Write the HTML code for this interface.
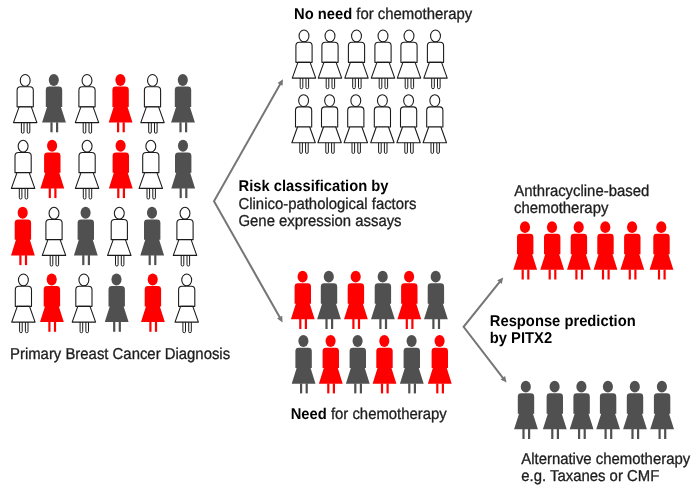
<!DOCTYPE html>
<html><head><meta charset="utf-8"><style>
html,body{margin:0;padding:0;background:#fff;width:700px;height:495px;overflow:hidden}
svg{display:block}
text{font-family:"Liberation Sans",sans-serif;font-size:14.9px;text-rendering:geometricPrecision}
</style></head><body>
<svg width="700" height="495" viewBox="0 0 700 495">

<rect width="700" height="495" fill="#fff"/>
<path d="M280.54,83.55 L214,201.2 L280.14,318.05" fill="none" stroke="#767676" stroke-width="2" stroke-linejoin="miter" stroke-miterlimit="10"/><polygon points="283.00,79.20 282.57,85.85 277.52,82.99" fill="#767676"/><polygon points="282.60,322.40 277.12,318.61 282.17,315.75" fill="#767676"/><path d="M500.07,281.30 L463.6,326.8 L503.45,378.64" fill="none" stroke="#767676" stroke-width="2" stroke-linejoin="miter" stroke-miterlimit="10"/><polygon points="503.20,277.40 501.71,283.90 497.18,280.27" fill="#767676"/><polygon points="506.50,382.60 500.54,379.61 505.14,376.08" fill="#767676"/>
<g transform="translate(25.2,74.0)"><g fill="#fff" stroke="#1a1a1a" stroke-width="1.08" stroke-linejoin="round"><ellipse cx="0" cy="6.4" rx="4.95" ry="5.9"/><path d="M-8.1,32.85 V16.2 Q-8.1,12.7 -4.6,12.7 H4.6 Q8.1,12.7 8.1,16.2 V32.85 Z"/><rect x="-3.8" y="47.5" width="2.6" height="11.7" rx="1.2" stroke-width="1"/><rect x="2.0" y="47.5" width="2.6" height="11.7" rx="1.2" stroke-width="1"/><path d="M-6.1,32.85 L6.1,32.85 L11.7,48.6 L-11.7,48.6 Z"/></g></g><g transform="translate(54.0,74.0)"><g fill="#505050"><ellipse cx="-0.2" cy="5.95" rx="5.05" ry="5.95"/><path d="M-8.2,33 V16 Q-8.2,12.6 -4.8,12.6 H4.8 Q8.2,12.6 8.2,16 V33 H6.96 L11.9,48.6 H-11.9 L-6.96,33 Z"/><rect x="-3.6" y="48.3" width="2.2" height="10"/><rect x="2.0" y="48.3" width="2.2" height="10"/></g></g><g transform="translate(87.0,74.0)"><g fill="#fff" stroke="#1a1a1a" stroke-width="1.08" stroke-linejoin="round"><ellipse cx="0" cy="6.4" rx="4.95" ry="5.9"/><path d="M-8.1,32.85 V16.2 Q-8.1,12.7 -4.6,12.7 H4.6 Q8.1,12.7 8.1,16.2 V32.85 Z"/><rect x="-3.8" y="47.5" width="2.6" height="11.7" rx="1.2" stroke-width="1"/><rect x="2.0" y="47.5" width="2.6" height="11.7" rx="1.2" stroke-width="1"/><path d="M-6.1,32.85 L6.1,32.85 L11.7,48.6 L-11.7,48.6 Z"/></g></g><g transform="translate(120.6,74.0)"><g fill="#ff0000"><ellipse cx="-0.2" cy="5.95" rx="5.05" ry="5.95"/><path d="M-8.2,33 V16 Q-8.2,12.6 -4.8,12.6 H4.8 Q8.2,12.6 8.2,16 V33 H6.96 L11.9,48.6 H-11.9 L-6.96,33 Z"/><rect x="-3.6" y="48.3" width="2.2" height="10"/><rect x="2.0" y="48.3" width="2.2" height="10"/></g></g><g transform="translate(152.5,74.0)"><g fill="#fff" stroke="#1a1a1a" stroke-width="1.08" stroke-linejoin="round"><ellipse cx="0" cy="6.4" rx="4.95" ry="5.9"/><path d="M-8.1,32.85 V16.2 Q-8.1,12.7 -4.6,12.7 H4.6 Q8.1,12.7 8.1,16.2 V32.85 Z"/><rect x="-3.8" y="47.5" width="2.6" height="11.7" rx="1.2" stroke-width="1"/><rect x="2.0" y="47.5" width="2.6" height="11.7" rx="1.2" stroke-width="1"/><path d="M-6.1,32.85 L6.1,32.85 L11.7,48.6 L-11.7,48.6 Z"/></g></g><g transform="translate(183.0,74.0)"><g fill="#505050"><ellipse cx="-0.2" cy="5.95" rx="5.05" ry="5.95"/><path d="M-8.2,33 V16 Q-8.2,12.6 -4.8,12.6 H4.8 Q8.2,12.6 8.2,16 V33 H6.96 L11.9,48.6 H-11.9 L-6.96,33 Z"/><rect x="-3.6" y="48.3" width="2.2" height="10"/><rect x="2.0" y="48.3" width="2.2" height="10"/></g></g><g transform="translate(23.1,139.8)"><g fill="#fff" stroke="#1a1a1a" stroke-width="1.08" stroke-linejoin="round"><ellipse cx="0" cy="6.4" rx="4.95" ry="5.9"/><path d="M-8.1,32.85 V16.2 Q-8.1,12.7 -4.6,12.7 H4.6 Q8.1,12.7 8.1,16.2 V32.85 Z"/><rect x="-3.8" y="47.5" width="2.6" height="11.7" rx="1.2" stroke-width="1"/><rect x="2.0" y="47.5" width="2.6" height="11.7" rx="1.2" stroke-width="1"/><path d="M-6.1,32.85 L6.1,32.85 L11.7,48.6 L-11.7,48.6 Z"/></g></g><g transform="translate(52.3,139.8)"><g fill="#ff0000"><ellipse cx="-0.2" cy="5.95" rx="5.05" ry="5.95"/><path d="M-8.2,33 V16 Q-8.2,12.6 -4.8,12.6 H4.8 Q8.2,12.6 8.2,16 V33 H6.96 L11.9,48.6 H-11.9 L-6.96,33 Z"/><rect x="-3.6" y="48.3" width="2.2" height="10"/><rect x="2.0" y="48.3" width="2.2" height="10"/></g></g><g transform="translate(87.1,139.8)"><g fill="#fff" stroke="#1a1a1a" stroke-width="1.08" stroke-linejoin="round"><ellipse cx="0" cy="6.4" rx="4.95" ry="5.9"/><path d="M-8.1,32.85 V16.2 Q-8.1,12.7 -4.6,12.7 H4.6 Q8.1,12.7 8.1,16.2 V32.85 Z"/><rect x="-3.8" y="47.5" width="2.6" height="11.7" rx="1.2" stroke-width="1"/><rect x="2.0" y="47.5" width="2.6" height="11.7" rx="1.2" stroke-width="1"/><path d="M-6.1,32.85 L6.1,32.85 L11.7,48.6 L-11.7,48.6 Z"/></g></g><g transform="translate(120.8,139.8)"><g fill="#ff0000"><ellipse cx="-0.2" cy="5.95" rx="5.05" ry="5.95"/><path d="M-8.2,33 V16 Q-8.2,12.6 -4.8,12.6 H4.8 Q8.2,12.6 8.2,16 V33 H6.96 L11.9,48.6 H-11.9 L-6.96,33 Z"/><rect x="-3.6" y="48.3" width="2.2" height="10"/><rect x="2.0" y="48.3" width="2.2" height="10"/></g></g><g transform="translate(150.8,139.8)"><g fill="#fff" stroke="#1a1a1a" stroke-width="1.08" stroke-linejoin="round"><ellipse cx="0" cy="6.4" rx="4.95" ry="5.9"/><path d="M-8.1,32.85 V16.2 Q-8.1,12.7 -4.6,12.7 H4.6 Q8.1,12.7 8.1,16.2 V32.85 Z"/><rect x="-3.8" y="47.5" width="2.6" height="11.7" rx="1.2" stroke-width="1"/><rect x="2.0" y="47.5" width="2.6" height="11.7" rx="1.2" stroke-width="1"/><path d="M-6.1,32.85 L6.1,32.85 L11.7,48.6 L-11.7,48.6 Z"/></g></g><g transform="translate(183.2,139.8)"><g fill="#505050"><ellipse cx="-0.2" cy="5.95" rx="5.05" ry="5.95"/><path d="M-8.2,33 V16 Q-8.2,12.6 -4.8,12.6 H4.8 Q8.2,12.6 8.2,16 V33 H6.96 L11.9,48.6 H-11.9 L-6.96,33 Z"/><rect x="-3.6" y="48.3" width="2.2" height="10"/><rect x="2.0" y="48.3" width="2.2" height="10"/></g></g><g transform="translate(22.9,206.8)"><g fill="#ff0000"><ellipse cx="-0.2" cy="5.95" rx="5.05" ry="5.95"/><path d="M-8.2,33 V16 Q-8.2,12.6 -4.8,12.6 H4.8 Q8.2,12.6 8.2,16 V33 H6.96 L11.9,48.6 H-11.9 L-6.96,33 Z"/><rect x="-3.6" y="48.3" width="2.2" height="10"/><rect x="2.0" y="48.3" width="2.2" height="10"/></g></g><g transform="translate(54.0,206.8)"><g fill="#fff" stroke="#1a1a1a" stroke-width="1.08" stroke-linejoin="round"><ellipse cx="0" cy="6.4" rx="4.95" ry="5.9"/><path d="M-8.1,32.85 V16.2 Q-8.1,12.7 -4.6,12.7 H4.6 Q8.1,12.7 8.1,16.2 V32.85 Z"/><rect x="-3.8" y="47.5" width="2.6" height="11.7" rx="1.2" stroke-width="1"/><rect x="2.0" y="47.5" width="2.6" height="11.7" rx="1.2" stroke-width="1"/><path d="M-6.1,32.85 L6.1,32.85 L11.7,48.6 L-11.7,48.6 Z"/></g></g><g transform="translate(85.8,206.8)"><g fill="#505050"><ellipse cx="-0.2" cy="5.95" rx="5.05" ry="5.95"/><path d="M-8.2,33 V16 Q-8.2,12.6 -4.8,12.6 H4.8 Q8.2,12.6 8.2,16 V33 H6.96 L11.9,48.6 H-11.9 L-6.96,33 Z"/><rect x="-3.6" y="48.3" width="2.2" height="10"/><rect x="2.0" y="48.3" width="2.2" height="10"/></g></g><g transform="translate(119.3,206.8)"><g fill="#fff" stroke="#1a1a1a" stroke-width="1.08" stroke-linejoin="round"><ellipse cx="0" cy="6.4" rx="4.95" ry="5.9"/><path d="M-8.1,32.85 V16.2 Q-8.1,12.7 -4.6,12.7 H4.6 Q8.1,12.7 8.1,16.2 V32.85 Z"/><rect x="-3.8" y="47.5" width="2.6" height="11.7" rx="1.2" stroke-width="1"/><rect x="2.0" y="47.5" width="2.6" height="11.7" rx="1.2" stroke-width="1"/><path d="M-6.1,32.85 L6.1,32.85 L11.7,48.6 L-11.7,48.6 Z"/></g></g><g transform="translate(152.2,206.8)"><g fill="#505050"><ellipse cx="-0.2" cy="5.95" rx="5.05" ry="5.95"/><path d="M-8.2,33 V16 Q-8.2,12.6 -4.8,12.6 H4.8 Q8.2,12.6 8.2,16 V33 H6.96 L11.9,48.6 H-11.9 L-6.96,33 Z"/><rect x="-3.6" y="48.3" width="2.2" height="10"/><rect x="2.0" y="48.3" width="2.2" height="10"/></g></g><g transform="translate(185.0,206.8)"><g fill="#fff" stroke="#1a1a1a" stroke-width="1.08" stroke-linejoin="round"><ellipse cx="0" cy="6.4" rx="4.95" ry="5.9"/><path d="M-8.1,32.85 V16.2 Q-8.1,12.7 -4.6,12.7 H4.6 Q8.1,12.7 8.1,16.2 V32.85 Z"/><rect x="-3.8" y="47.5" width="2.6" height="11.7" rx="1.2" stroke-width="1"/><rect x="2.0" y="47.5" width="2.6" height="11.7" rx="1.2" stroke-width="1"/><path d="M-6.1,32.85 L6.1,32.85 L11.7,48.6 L-11.7,48.6 Z"/></g></g><g transform="translate(23.4,273.5)"><g fill="#fff" stroke="#1a1a1a" stroke-width="1.08" stroke-linejoin="round"><ellipse cx="0" cy="6.4" rx="4.95" ry="5.9"/><path d="M-8.1,32.85 V16.2 Q-8.1,12.7 -4.6,12.7 H4.6 Q8.1,12.7 8.1,16.2 V32.85 Z"/><rect x="-3.8" y="47.5" width="2.6" height="11.7" rx="1.2" stroke-width="1"/><rect x="2.0" y="47.5" width="2.6" height="11.7" rx="1.2" stroke-width="1"/><path d="M-6.1,32.85 L6.1,32.85 L11.7,48.6 L-11.7,48.6 Z"/></g></g><g transform="translate(51.9,273.5)"><g fill="#ff0000"><ellipse cx="-0.2" cy="5.95" rx="5.05" ry="5.95"/><path d="M-8.2,33 V16 Q-8.2,12.6 -4.8,12.6 H4.8 Q8.2,12.6 8.2,16 V33 H6.96 L11.9,48.6 H-11.9 L-6.96,33 Z"/><rect x="-3.6" y="48.3" width="2.2" height="10"/><rect x="2.0" y="48.3" width="2.2" height="10"/></g></g><g transform="translate(83.9,273.5)"><g fill="#fff" stroke="#1a1a1a" stroke-width="1.08" stroke-linejoin="round"><ellipse cx="0" cy="6.4" rx="4.95" ry="5.9"/><path d="M-8.1,32.85 V16.2 Q-8.1,12.7 -4.6,12.7 H4.6 Q8.1,12.7 8.1,16.2 V32.85 Z"/><rect x="-3.8" y="47.5" width="2.6" height="11.7" rx="1.2" stroke-width="1"/><rect x="2.0" y="47.5" width="2.6" height="11.7" rx="1.2" stroke-width="1"/><path d="M-6.1,32.85 L6.1,32.85 L11.7,48.6 L-11.7,48.6 Z"/></g></g><g transform="translate(116.7,273.5)"><g fill="#505050"><ellipse cx="-0.2" cy="5.95" rx="5.05" ry="5.95"/><path d="M-8.2,33 V16 Q-8.2,12.6 -4.8,12.6 H4.8 Q8.2,12.6 8.2,16 V33 H6.96 L11.9,48.6 H-11.9 L-6.96,33 Z"/><rect x="-3.6" y="48.3" width="2.2" height="10"/><rect x="2.0" y="48.3" width="2.2" height="10"/></g></g><g transform="translate(152.9,273.5)"><g fill="#ff0000"><ellipse cx="-0.2" cy="5.95" rx="5.05" ry="5.95"/><path d="M-8.2,33 V16 Q-8.2,12.6 -4.8,12.6 H4.8 Q8.2,12.6 8.2,16 V33 H6.96 L11.9,48.6 H-11.9 L-6.96,33 Z"/><rect x="-3.6" y="48.3" width="2.2" height="10"/><rect x="2.0" y="48.3" width="2.2" height="10"/></g></g><g transform="translate(186.7,273.5)"><g fill="#fff" stroke="#1a1a1a" stroke-width="1.08" stroke-linejoin="round"><ellipse cx="0" cy="6.4" rx="4.95" ry="5.9"/><path d="M-8.1,32.85 V16.2 Q-8.1,12.7 -4.6,12.7 H4.6 Q8.1,12.7 8.1,16.2 V32.85 Z"/><rect x="-3.8" y="47.5" width="2.6" height="11.7" rx="1.2" stroke-width="1"/><rect x="2.0" y="47.5" width="2.6" height="11.7" rx="1.2" stroke-width="1"/><path d="M-6.1,32.85 L6.1,32.85 L11.7,48.6 L-11.7,48.6 Z"/></g></g><g transform="translate(304.0,29.5)"><g fill="#fff" stroke="#1a1a1a" stroke-width="1.08" stroke-linejoin="round"><ellipse cx="0" cy="6.4" rx="4.95" ry="5.9"/><path d="M-8.1,32.85 V16.2 Q-8.1,12.7 -4.6,12.7 H4.6 Q8.1,12.7 8.1,16.2 V32.85 Z"/><rect x="-3.8" y="47.5" width="2.6" height="11.7" rx="1.2" stroke-width="1"/><rect x="2.0" y="47.5" width="2.6" height="11.7" rx="1.2" stroke-width="1"/><path d="M-6.1,32.85 L6.1,32.85 L11.7,48.6 L-11.7,48.6 Z"/></g></g><g transform="translate(330.0,29.5)"><g fill="#fff" stroke="#1a1a1a" stroke-width="1.08" stroke-linejoin="round"><ellipse cx="0" cy="6.4" rx="4.95" ry="5.9"/><path d="M-8.1,32.85 V16.2 Q-8.1,12.7 -4.6,12.7 H4.6 Q8.1,12.7 8.1,16.2 V32.85 Z"/><rect x="-3.8" y="47.5" width="2.6" height="11.7" rx="1.2" stroke-width="1"/><rect x="2.0" y="47.5" width="2.6" height="11.7" rx="1.2" stroke-width="1"/><path d="M-6.1,32.85 L6.1,32.85 L11.7,48.6 L-11.7,48.6 Z"/></g></g><g transform="translate(356.5,29.5)"><g fill="#fff" stroke="#1a1a1a" stroke-width="1.08" stroke-linejoin="round"><ellipse cx="0" cy="6.4" rx="4.95" ry="5.9"/><path d="M-8.1,32.85 V16.2 Q-8.1,12.7 -4.6,12.7 H4.6 Q8.1,12.7 8.1,16.2 V32.85 Z"/><rect x="-3.8" y="47.5" width="2.6" height="11.7" rx="1.2" stroke-width="1"/><rect x="2.0" y="47.5" width="2.6" height="11.7" rx="1.2" stroke-width="1"/><path d="M-6.1,32.85 L6.1,32.85 L11.7,48.6 L-11.7,48.6 Z"/></g></g><g transform="translate(383.0,29.5)"><g fill="#fff" stroke="#1a1a1a" stroke-width="1.08" stroke-linejoin="round"><ellipse cx="0" cy="6.4" rx="4.95" ry="5.9"/><path d="M-8.1,32.85 V16.2 Q-8.1,12.7 -4.6,12.7 H4.6 Q8.1,12.7 8.1,16.2 V32.85 Z"/><rect x="-3.8" y="47.5" width="2.6" height="11.7" rx="1.2" stroke-width="1"/><rect x="2.0" y="47.5" width="2.6" height="11.7" rx="1.2" stroke-width="1"/><path d="M-6.1,32.85 L6.1,32.85 L11.7,48.6 L-11.7,48.6 Z"/></g></g><g transform="translate(409.0,29.5)"><g fill="#fff" stroke="#1a1a1a" stroke-width="1.08" stroke-linejoin="round"><ellipse cx="0" cy="6.4" rx="4.95" ry="5.9"/><path d="M-8.1,32.85 V16.2 Q-8.1,12.7 -4.6,12.7 H4.6 Q8.1,12.7 8.1,16.2 V32.85 Z"/><rect x="-3.8" y="47.5" width="2.6" height="11.7" rx="1.2" stroke-width="1"/><rect x="2.0" y="47.5" width="2.6" height="11.7" rx="1.2" stroke-width="1"/><path d="M-6.1,32.85 L6.1,32.85 L11.7,48.6 L-11.7,48.6 Z"/></g></g><g transform="translate(435.5,29.5)"><g fill="#fff" stroke="#1a1a1a" stroke-width="1.08" stroke-linejoin="round"><ellipse cx="0" cy="6.4" rx="4.95" ry="5.9"/><path d="M-8.1,32.85 V16.2 Q-8.1,12.7 -4.6,12.7 H4.6 Q8.1,12.7 8.1,16.2 V32.85 Z"/><rect x="-3.8" y="47.5" width="2.6" height="11.7" rx="1.2" stroke-width="1"/><rect x="2.0" y="47.5" width="2.6" height="11.7" rx="1.2" stroke-width="1"/><path d="M-6.1,32.85 L6.1,32.85 L11.7,48.6 L-11.7,48.6 Z"/></g></g><g transform="translate(303.6,94.2)"><g fill="#fff" stroke="#1a1a1a" stroke-width="1.08" stroke-linejoin="round"><ellipse cx="0" cy="6.4" rx="4.95" ry="5.9"/><path d="M-8.1,32.85 V16.2 Q-8.1,12.7 -4.6,12.7 H4.6 Q8.1,12.7 8.1,16.2 V32.85 Z"/><rect x="-3.8" y="47.5" width="2.6" height="11.7" rx="1.2" stroke-width="1"/><rect x="2.0" y="47.5" width="2.6" height="11.7" rx="1.2" stroke-width="1"/><path d="M-6.1,32.85 L6.1,32.85 L11.7,48.6 L-11.7,48.6 Z"/></g></g><g transform="translate(329.6,94.2)"><g fill="#fff" stroke="#1a1a1a" stroke-width="1.08" stroke-linejoin="round"><ellipse cx="0" cy="6.4" rx="4.95" ry="5.9"/><path d="M-8.1,32.85 V16.2 Q-8.1,12.7 -4.6,12.7 H4.6 Q8.1,12.7 8.1,16.2 V32.85 Z"/><rect x="-3.8" y="47.5" width="2.6" height="11.7" rx="1.2" stroke-width="1"/><rect x="2.0" y="47.5" width="2.6" height="11.7" rx="1.2" stroke-width="1"/><path d="M-6.1,32.85 L6.1,32.85 L11.7,48.6 L-11.7,48.6 Z"/></g></g><g transform="translate(355.8,94.2)"><g fill="#fff" stroke="#1a1a1a" stroke-width="1.08" stroke-linejoin="round"><ellipse cx="0" cy="6.4" rx="4.95" ry="5.9"/><path d="M-8.1,32.85 V16.2 Q-8.1,12.7 -4.6,12.7 H4.6 Q8.1,12.7 8.1,16.2 V32.85 Z"/><rect x="-3.8" y="47.5" width="2.6" height="11.7" rx="1.2" stroke-width="1"/><rect x="2.0" y="47.5" width="2.6" height="11.7" rx="1.2" stroke-width="1"/><path d="M-6.1,32.85 L6.1,32.85 L11.7,48.6 L-11.7,48.6 Z"/></g></g><g transform="translate(382.4,94.2)"><g fill="#fff" stroke="#1a1a1a" stroke-width="1.08" stroke-linejoin="round"><ellipse cx="0" cy="6.4" rx="4.95" ry="5.9"/><path d="M-8.1,32.85 V16.2 Q-8.1,12.7 -4.6,12.7 H4.6 Q8.1,12.7 8.1,16.2 V32.85 Z"/><rect x="-3.8" y="47.5" width="2.6" height="11.7" rx="1.2" stroke-width="1"/><rect x="2.0" y="47.5" width="2.6" height="11.7" rx="1.2" stroke-width="1"/><path d="M-6.1,32.85 L6.1,32.85 L11.7,48.6 L-11.7,48.6 Z"/></g></g><g transform="translate(408.6,94.2)"><g fill="#fff" stroke="#1a1a1a" stroke-width="1.08" stroke-linejoin="round"><ellipse cx="0" cy="6.4" rx="4.95" ry="5.9"/><path d="M-8.1,32.85 V16.2 Q-8.1,12.7 -4.6,12.7 H4.6 Q8.1,12.7 8.1,16.2 V32.85 Z"/><rect x="-3.8" y="47.5" width="2.6" height="11.7" rx="1.2" stroke-width="1"/><rect x="2.0" y="47.5" width="2.6" height="11.7" rx="1.2" stroke-width="1"/><path d="M-6.1,32.85 L6.1,32.85 L11.7,48.6 L-11.7,48.6 Z"/></g></g><g transform="translate(434.8,94.2)"><g fill="#fff" stroke="#1a1a1a" stroke-width="1.08" stroke-linejoin="round"><ellipse cx="0" cy="6.4" rx="4.95" ry="5.9"/><path d="M-8.1,32.85 V16.2 Q-8.1,12.7 -4.6,12.7 H4.6 Q8.1,12.7 8.1,16.2 V32.85 Z"/><rect x="-3.8" y="47.5" width="2.6" height="11.7" rx="1.2" stroke-width="1"/><rect x="2.0" y="47.5" width="2.6" height="11.7" rx="1.2" stroke-width="1"/><path d="M-6.1,32.85 L6.1,32.85 L11.7,48.6 L-11.7,48.6 Z"/></g></g><g transform="translate(302.8,270.7)"><g fill="#ff0000"><ellipse cx="-0.2" cy="5.95" rx="5.05" ry="5.95"/><path d="M-8.2,33 V16 Q-8.2,12.6 -4.8,12.6 H4.8 Q8.2,12.6 8.2,16 V33 H6.96 L11.9,48.6 H-11.9 L-6.96,33 Z"/><rect x="-3.6" y="48.3" width="2.2" height="10"/><rect x="2.0" y="48.3" width="2.2" height="10"/></g></g><g transform="translate(329.0,270.7)"><g fill="#505050"><ellipse cx="-0.2" cy="5.95" rx="5.05" ry="5.95"/><path d="M-8.2,33 V16 Q-8.2,12.6 -4.8,12.6 H4.8 Q8.2,12.6 8.2,16 V33 H6.96 L11.9,48.6 H-11.9 L-6.96,33 Z"/><rect x="-3.6" y="48.3" width="2.2" height="10"/><rect x="2.0" y="48.3" width="2.2" height="10"/></g></g><g transform="translate(355.9,270.7)"><g fill="#ff0000"><ellipse cx="-0.2" cy="5.95" rx="5.05" ry="5.95"/><path d="M-8.2,33 V16 Q-8.2,12.6 -4.8,12.6 H4.8 Q8.2,12.6 8.2,16 V33 H6.96 L11.9,48.6 H-11.9 L-6.96,33 Z"/><rect x="-3.6" y="48.3" width="2.2" height="10"/><rect x="2.0" y="48.3" width="2.2" height="10"/></g></g><g transform="translate(382.9,270.7)"><g fill="#505050"><ellipse cx="-0.2" cy="5.95" rx="5.05" ry="5.95"/><path d="M-8.2,33 V16 Q-8.2,12.6 -4.8,12.6 H4.8 Q8.2,12.6 8.2,16 V33 H6.96 L11.9,48.6 H-11.9 L-6.96,33 Z"/><rect x="-3.6" y="48.3" width="2.2" height="10"/><rect x="2.0" y="48.3" width="2.2" height="10"/></g></g><g transform="translate(409.3,270.7)"><g fill="#ff0000"><ellipse cx="-0.2" cy="5.95" rx="5.05" ry="5.95"/><path d="M-8.2,33 V16 Q-8.2,12.6 -4.8,12.6 H4.8 Q8.2,12.6 8.2,16 V33 H6.96 L11.9,48.6 H-11.9 L-6.96,33 Z"/><rect x="-3.6" y="48.3" width="2.2" height="10"/><rect x="2.0" y="48.3" width="2.2" height="10"/></g></g><g transform="translate(435.9,270.7)"><g fill="#505050"><ellipse cx="-0.2" cy="5.95" rx="5.05" ry="5.95"/><path d="M-8.2,33 V16 Q-8.2,12.6 -4.8,12.6 H4.8 Q8.2,12.6 8.2,16 V33 H6.96 L11.9,48.6 H-11.9 L-6.96,33 Z"/><rect x="-3.6" y="48.3" width="2.2" height="10"/><rect x="2.0" y="48.3" width="2.2" height="10"/></g></g><g transform="translate(303.6,335.1)"><g fill="#505050"><ellipse cx="-0.2" cy="5.95" rx="5.05" ry="5.95"/><path d="M-8.2,33 V16 Q-8.2,12.6 -4.8,12.6 H4.8 Q8.2,12.6 8.2,16 V33 H6.96 L11.9,48.6 H-11.9 L-6.96,33 Z"/><rect x="-3.6" y="48.3" width="2.2" height="10"/><rect x="2.0" y="48.3" width="2.2" height="10"/></g></g><g transform="translate(330.8,335.1)"><g fill="#ff0000"><ellipse cx="-0.2" cy="5.95" rx="5.05" ry="5.95"/><path d="M-8.2,33 V16 Q-8.2,12.6 -4.8,12.6 H4.8 Q8.2,12.6 8.2,16 V33 H6.96 L11.9,48.6 H-11.9 L-6.96,33 Z"/><rect x="-3.6" y="48.3" width="2.2" height="10"/><rect x="2.0" y="48.3" width="2.2" height="10"/></g></g><g transform="translate(357.8,335.1)"><g fill="#505050"><ellipse cx="-0.2" cy="5.95" rx="5.05" ry="5.95"/><path d="M-8.2,33 V16 Q-8.2,12.6 -4.8,12.6 H4.8 Q8.2,12.6 8.2,16 V33 H6.96 L11.9,48.6 H-11.9 L-6.96,33 Z"/><rect x="-3.6" y="48.3" width="2.2" height="10"/><rect x="2.0" y="48.3" width="2.2" height="10"/></g></g><g transform="translate(384.5,335.1)"><g fill="#ff0000"><ellipse cx="-0.2" cy="5.95" rx="5.05" ry="5.95"/><path d="M-8.2,33 V16 Q-8.2,12.6 -4.8,12.6 H4.8 Q8.2,12.6 8.2,16 V33 H6.96 L11.9,48.6 H-11.9 L-6.96,33 Z"/><rect x="-3.6" y="48.3" width="2.2" height="10"/><rect x="2.0" y="48.3" width="2.2" height="10"/></g></g><g transform="translate(411.8,335.1)"><g fill="#505050"><ellipse cx="-0.2" cy="5.95" rx="5.05" ry="5.95"/><path d="M-8.2,33 V16 Q-8.2,12.6 -4.8,12.6 H4.8 Q8.2,12.6 8.2,16 V33 H6.96 L11.9,48.6 H-11.9 L-6.96,33 Z"/><rect x="-3.6" y="48.3" width="2.2" height="10"/><rect x="2.0" y="48.3" width="2.2" height="10"/></g></g><g transform="translate(439.8,335.1)"><g fill="#ff0000"><ellipse cx="-0.2" cy="5.95" rx="5.05" ry="5.95"/><path d="M-8.2,33 V16 Q-8.2,12.6 -4.8,12.6 H4.8 Q8.2,12.6 8.2,16 V33 H6.96 L11.9,48.6 H-11.9 L-6.96,33 Z"/><rect x="-3.6" y="48.3" width="2.2" height="10"/><rect x="2.0" y="48.3" width="2.2" height="10"/></g></g><g transform="translate(525.2,221.2)"><g fill="#ff0000"><ellipse cx="-0.2" cy="5.95" rx="5.05" ry="5.95"/><path d="M-8.2,33 V16 Q-8.2,12.6 -4.8,12.6 H4.8 Q8.2,12.6 8.2,16 V33 H6.96 L11.9,48.6 H-11.9 L-6.96,33 Z"/><rect x="-3.6" y="48.3" width="2.2" height="10"/><rect x="2.0" y="48.3" width="2.2" height="10"/></g></g><g transform="translate(552.2,221.2)"><g fill="#ff0000"><ellipse cx="-0.2" cy="5.95" rx="5.05" ry="5.95"/><path d="M-8.2,33 V16 Q-8.2,12.6 -4.8,12.6 H4.8 Q8.2,12.6 8.2,16 V33 H6.96 L11.9,48.6 H-11.9 L-6.96,33 Z"/><rect x="-3.6" y="48.3" width="2.2" height="10"/><rect x="2.0" y="48.3" width="2.2" height="10"/></g></g><g transform="translate(578.9,221.2)"><g fill="#ff0000"><ellipse cx="-0.2" cy="5.95" rx="5.05" ry="5.95"/><path d="M-8.2,33 V16 Q-8.2,12.6 -4.8,12.6 H4.8 Q8.2,12.6 8.2,16 V33 H6.96 L11.9,48.6 H-11.9 L-6.96,33 Z"/><rect x="-3.6" y="48.3" width="2.2" height="10"/><rect x="2.0" y="48.3" width="2.2" height="10"/></g></g><g transform="translate(605.5,221.2)"><g fill="#ff0000"><ellipse cx="-0.2" cy="5.95" rx="5.05" ry="5.95"/><path d="M-8.2,33 V16 Q-8.2,12.6 -4.8,12.6 H4.8 Q8.2,12.6 8.2,16 V33 H6.96 L11.9,48.6 H-11.9 L-6.96,33 Z"/><rect x="-3.6" y="48.3" width="2.2" height="10"/><rect x="2.0" y="48.3" width="2.2" height="10"/></g></g><g transform="translate(632.3,221.2)"><g fill="#ff0000"><ellipse cx="-0.2" cy="5.95" rx="5.05" ry="5.95"/><path d="M-8.2,33 V16 Q-8.2,12.6 -4.8,12.6 H4.8 Q8.2,12.6 8.2,16 V33 H6.96 L11.9,48.6 H-11.9 L-6.96,33 Z"/><rect x="-3.6" y="48.3" width="2.2" height="10"/><rect x="2.0" y="48.3" width="2.2" height="10"/></g></g><g transform="translate(661.5,221.2)"><g fill="#ff0000"><ellipse cx="-0.2" cy="5.95" rx="5.05" ry="5.95"/><path d="M-8.2,33 V16 Q-8.2,12.6 -4.8,12.6 H4.8 Q8.2,12.6 8.2,16 V33 H6.96 L11.9,48.6 H-11.9 L-6.96,33 Z"/><rect x="-3.6" y="48.3" width="2.2" height="10"/><rect x="2.0" y="48.3" width="2.2" height="10"/></g></g><g transform="translate(526.0,380.7)"><g fill="#505050"><ellipse cx="-0.2" cy="5.95" rx="5.05" ry="5.95"/><path d="M-8.2,33 V16 Q-8.2,12.6 -4.8,12.6 H4.8 Q8.2,12.6 8.2,16 V33 H6.96 L11.9,48.6 H-11.9 L-6.96,33 Z"/><rect x="-3.6" y="48.3" width="2.2" height="10"/><rect x="2.0" y="48.3" width="2.2" height="10"/></g></g><g transform="translate(554.8,380.7)"><g fill="#505050"><ellipse cx="-0.2" cy="5.95" rx="5.05" ry="5.95"/><path d="M-8.2,33 V16 Q-8.2,12.6 -4.8,12.6 H4.8 Q8.2,12.6 8.2,16 V33 H6.96 L11.9,48.6 H-11.9 L-6.96,33 Z"/><rect x="-3.6" y="48.3" width="2.2" height="10"/><rect x="2.0" y="48.3" width="2.2" height="10"/></g></g><g transform="translate(581.6,380.7)"><g fill="#505050"><ellipse cx="-0.2" cy="5.95" rx="5.05" ry="5.95"/><path d="M-8.2,33 V16 Q-8.2,12.6 -4.8,12.6 H4.8 Q8.2,12.6 8.2,16 V33 H6.96 L11.9,48.6 H-11.9 L-6.96,33 Z"/><rect x="-3.6" y="48.3" width="2.2" height="10"/><rect x="2.0" y="48.3" width="2.2" height="10"/></g></g><g transform="translate(608.1,380.7)"><g fill="#505050"><ellipse cx="-0.2" cy="5.95" rx="5.05" ry="5.95"/><path d="M-8.2,33 V16 Q-8.2,12.6 -4.8,12.6 H4.8 Q8.2,12.6 8.2,16 V33 H6.96 L11.9,48.6 H-11.9 L-6.96,33 Z"/><rect x="-3.6" y="48.3" width="2.2" height="10"/><rect x="2.0" y="48.3" width="2.2" height="10"/></g></g><g transform="translate(635.0,380.7)"><g fill="#505050"><ellipse cx="-0.2" cy="5.95" rx="5.05" ry="5.95"/><path d="M-8.2,33 V16 Q-8.2,12.6 -4.8,12.6 H4.8 Q8.2,12.6 8.2,16 V33 H6.96 L11.9,48.6 H-11.9 L-6.96,33 Z"/><rect x="-3.6" y="48.3" width="2.2" height="10"/><rect x="2.0" y="48.3" width="2.2" height="10"/></g></g><g transform="translate(662.1,380.7)"><g fill="#505050"><ellipse cx="-0.2" cy="5.95" rx="5.05" ry="5.95"/><path d="M-8.2,33 V16 Q-8.2,12.6 -4.8,12.6 H4.8 Q8.2,12.6 8.2,16 V33 H6.96 L11.9,48.6 H-11.9 L-6.96,33 Z"/><rect x="-3.6" y="48.3" width="2.2" height="10"/><rect x="2.0" y="48.3" width="2.2" height="10"/></g></g>
<g style="opacity:0.999"><text transform="translate(294.0,18.8) scale(1,1.06)" fill="#1e1e1e" stroke="#1e1e1e" stroke-width="0.3"><tspan font-weight="bold" fill="#000" stroke="none" font-size="14.75">No need</tspan><tspan> for chemotherapy</tspan></text><text transform="translate(238.5,190.8) scale(1,1.06)" fill="#1e1e1e" stroke="#1e1e1e" stroke-width="0.3"><tspan font-weight="bold" fill="#000" stroke="none" font-size="14.75">Risk classification by</tspan></text><text transform="translate(238.5,208.6) scale(1,1.06)" fill="#1e1e1e" stroke="#1e1e1e" stroke-width="0.3"><tspan>Clinico-pathological factors</tspan></text><text transform="translate(238.5,226.1) scale(1,1.06)" fill="#1e1e1e" stroke="#1e1e1e" stroke-width="0.3"><tspan>Gene expression assays</tspan></text><text transform="translate(10.0,358.9) scale(1,1.06)" fill="#1e1e1e" stroke="#1e1e1e" stroke-width="0.3"><tspan>Primary Breast Cancer Diagnosis</tspan></text><text transform="translate(290.7,418.7) scale(1,1.06)" fill="#1e1e1e" stroke="#1e1e1e" stroke-width="0.3"><tspan font-weight="bold" fill="#000" stroke="none" font-size="14.75">Need</tspan><tspan> for chemotherapy</tspan></text><text transform="translate(514.3,195.6) scale(1,1.06)" fill="#1e1e1e" stroke="#1e1e1e" stroke-width="0.3"><tspan>Anthracycline-based</tspan></text><text transform="translate(514.0,212.7) scale(1,1.06)" fill="#1e1e1e" stroke="#1e1e1e" stroke-width="0.3"><tspan>chemotherapy</tspan></text><text transform="translate(489.8,326.1) scale(1,1.06)" fill="#1e1e1e" stroke="#1e1e1e" stroke-width="0.3"><tspan font-weight="bold" fill="#000" stroke="none" font-size="14.75">Response prediction</tspan></text><text transform="translate(489.8,343.2) scale(1,1.06)" fill="#1e1e1e" stroke="#1e1e1e" stroke-width="0.3"><tspan font-weight="bold" fill="#000" stroke="none" font-size="14.75">by PITX2</tspan></text><text transform="translate(521.3,464.1) scale(1,1.06)" fill="#1e1e1e" stroke="#1e1e1e" stroke-width="0.3"><tspan>Alternative chemotherapy</tspan></text><text transform="translate(521.3,480.5) scale(1,1.06)" fill="#1e1e1e" stroke="#1e1e1e" stroke-width="0.3"><tspan>e.g. Taxanes or CMF</tspan></text></g>
</svg>
</body></html>
